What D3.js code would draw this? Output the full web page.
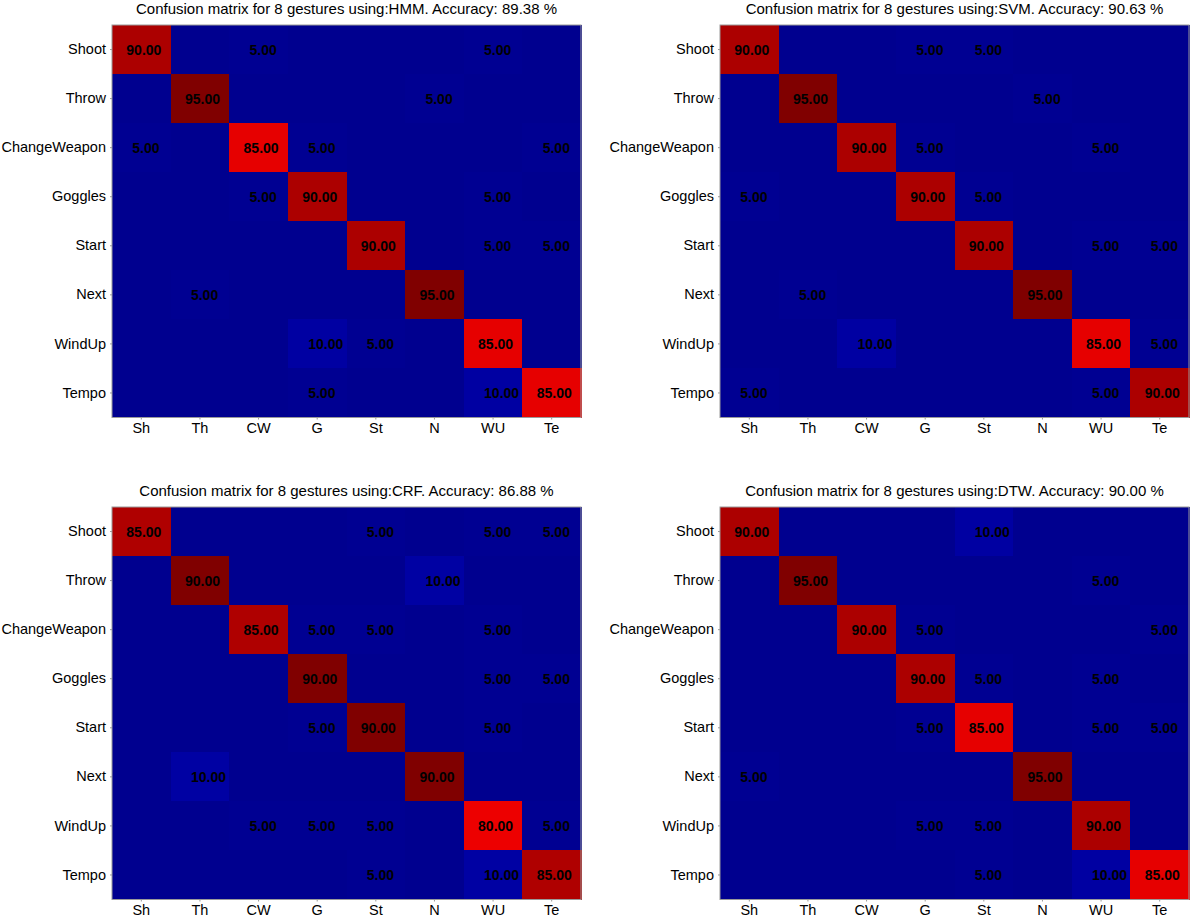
<!DOCTYPE html>
<html>
<head>
<meta charset="utf-8">
<script src="https://cdn.jsdelivr.net/npm/d3@7"></script>
<style>
  body { margin: 0; background: #fff; }
  svg { display: block; font-family: "Liberation Sans", Arial, sans-serif; }
  .title { font-size: 15px; fill: #000; }
  .axis text { font-size: 14.5px; fill: #000; }
  .axis path, .axis line { stroke: #9a9a9a; }
  .cell { shape-rendering: crispEdges; }
  .cell-label { font-size: 14px; font-weight: bold; fill: #000; }
</style>
</head>
<body>
<script>
// gesture classes (rows = true class, columns = predicted)
var categories = ["Shoot", "Throw", "ChangeWeapon", "Goggles", "Start", "Next", "WindUp", "Tempo"];
var shortLabels = ["Sh", "Th", "CW", "G", "St", "N", "WU", "Te"];

var methods = ["HMM", "SVM", "CRF", "DTW"];
var accuracies = ["89.38", "90.63", "86.88", "90.00"];

var hmm = [
  [90, 0, 5, 0, 0, 0, 5, 0],
  [0, 95, 0, 0, 0, 5, 0, 0],
  [5, 0, 85, 5, 0, 0, 0, 5],
  [0, 0, 5, 90, 0, 0, 5, 0],
  [0, 0, 0, 0, 90, 0, 5, 5],
  [0, 5, 0, 0, 0, 95, 0, 0],
  [0, 0, 0, 10, 5, 0, 85, 0],
  [0, 0, 0, 5, 0, 0, 10, 85]
];
var svm = [
  [90, 0, 0, 5, 5, 0, 0, 0],
  [0, 95, 0, 0, 0, 5, 0, 0],
  [0, 0, 90, 5, 0, 0, 5, 0],
  [5, 0, 0, 90, 5, 0, 0, 0],
  [0, 0, 0, 0, 90, 0, 5, 5],
  [0, 5, 0, 0, 0, 95, 0, 0],
  [0, 0, 10, 0, 0, 0, 85, 5],
  [5, 0, 0, 0, 0, 0, 5, 90]
];
var crf = [
  [85, 0, 0, 0, 5, 0, 5, 5],
  [0, 90, 0, 0, 0, 10, 0, 0],
  [0, 0, 85, 5, 5, 0, 5, 0],
  [0, 0, 0, 90, 0, 0, 5, 5],
  [0, 0, 0, 5, 90, 0, 5, 0],
  [0, 10, 0, 0, 0, 90, 0, 0],
  [0, 0, 5, 5, 5, 0, 80, 5],
  [0, 0, 0, 0, 5, 0, 10, 85]
];
var dtw = [
  [90, 0, 0, 0, 10, 0, 0, 0],
  [0, 95, 0, 0, 0, 0, 5, 0],
  [0, 0, 90, 5, 0, 0, 0, 5],
  [0, 0, 0, 90, 5, 0, 5, 0],
  [0, 0, 0, 5, 85, 0, 5, 5],
  [5, 0, 0, 0, 0, 95, 0, 0],
  [0, 0, 0, 5, 5, 0, 90, 0],
  [0, 0, 0, 0, 5, 0, 10, 85]
];
var matrices = [hmm, svm, crf, dtw];

var W = 1192, H = 919;
var panelW = 469, panelH = 392.5;
var panelX = [112, 720], panelY = [25, 507];

var svg = d3.select("body").append("svg")
    .attr("width", W)
    .attr("height", H);

// jet-like map (relative to the panel max)
var color = d3.scaleLinear()
    .domain([0, 0.055, 0.11, 0.4, 0.65, 0.885, 0.9, 0.945, 1])
    .range(["#00008f", "#000092", "#0000a3", "#00ffff", "#ffff00", "#f20000", "#df0000", "#ae0000", "#800000"])
    .clamp(true);

var x = d3.scaleBand().domain(d3.range(categories.length)).range([0, panelW]);
var y = d3.scaleBand().domain(d3.range(categories.length)).range([0, panelH]);

methods.forEach(function(m, k) {
  var mat = matrices[k];
  var maxV = d3.max(mat, function(r) { return d3.max(r); });
  var g = svg.append("g")
      .attr("transform", "translate(" + panelX[k % 2] + "," + panelY[Math.floor(k / 2)] + ")");

  var cells = [];
  mat.forEach(function(row, i) {
    row.forEach(function(v, j) { cells.push({i: i, j: j, v: v}); });
  });

  g.selectAll("rect.cell")
    .data(cells)
    .enter().append("rect")
      .attr("class", "cell")
      .attr("x", function(d) { return x(d.j); })
      .attr("y", function(d) { return y(d.i); })
      .attr("width", x.bandwidth() + 0.6)
      .attr("height", y.bandwidth() + 0.6)
      .attr("fill", function(d) { return color(d.v / maxV); });

  g.selectAll("text.cell-label")
    .data(cells.filter(function(d) { return d.v > 0; }))
    .enter().append("text")
      .attr("class", "cell-label")
      .attr("x", function(d) { return x(d.j) + x.bandwidth() / 2 - (d.i === d.j ? 15 : 9); })
      .attr("y", function(d) { return y(d.i) + y.bandwidth() / 2; })
      .attr("dy", "0.36em")
      .text(function(d) { return d.v.toFixed(2); });

  // frame
  g.append("rect")
    .attr("width", panelW)
    .attr("height", panelH)
    .attr("fill", "none")
    .attr("stroke", "#9a9a9a");

  g.append("g")
    .attr("class", "axis")
    .attr("transform", "translate(0," + panelH + ")")
    .call(d3.axisBottom(x).tickSize(2).tickPadding(3)
      .tickFormat(function(d) { return shortLabels[d]; }))
    .call(function(a) { a.select(".domain").remove(); });

  g.append("g")
    .attr("class", "axis")
    .call(d3.axisLeft(y).tickSize(2).tickPadding(4)
      .tickFormat(function(d) { return categories[d]; }))
    .call(function(a) { a.select(".domain").remove(); });

  g.append("text")
    .attr("class", "title")
    .attr("x", panelW / 2)
    .attr("y", -11)
    .attr("text-anchor", "middle")
    .text("Confusion matrix for 8 gestures using:" + m + ". Accuracy: " + accuracies[k] + " %");
});
</script>
</body>
</html>
